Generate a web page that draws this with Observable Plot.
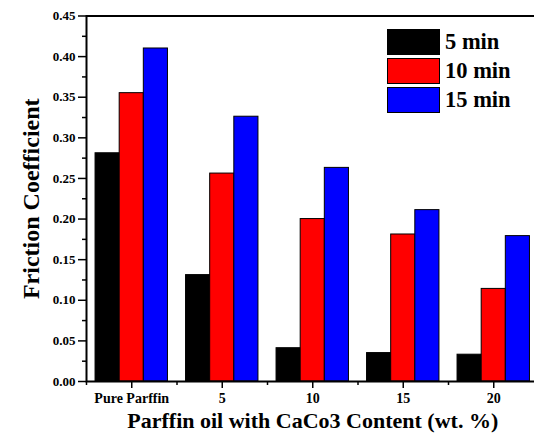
<!DOCTYPE html>
<html>
<head>
<meta charset="utf-8">
<script src="https://cdn.jsdelivr.net/npm/d3@7"></script>
<script src="https://cdn.jsdelivr.net/npm/@observablehq/plot@0.6"></script>
<style>
  html, body { margin: 0; padding: 0; background: white; overflow: hidden; }
  #wrap { position: relative; width: 534px; height: 441px; }
  #legend { position: absolute; left: 387px; top: 27px; font-family: 'Liberation Serif', serif; font-weight: bold; font-size: 22.5px; }
  .row { display: flex; align-items: center; height: 29px; }
  .sw { width: 53px; height: 26px; border: 1px solid #000; margin-right: 5px; box-sizing: border-box; }
</style>
</head>
<body>
<div id="wrap"><div id="legend"></div></div>
<script>
const categories = ["Pure Parffin", "5", "10", "15", "20"];
const series = ["5 min", "10 min", "15 min"];
const colors = ["#000000", "#ff0000", "#0000ff"];
const values5min = [0.281, 0.131, 0.041, 0.035, 0.033];
const values10min = [0.355, 0.256, 0.200, 0.181, 0.114];
const values15min = [0.410, 0.326, 0.263, 0.211, 0.179];
const yTicks = [0, 0.05, 0.10, 0.15, 0.20, 0.25, 0.30, 0.35, 0.40, 0.45];

const seriesValues = [values5min, values10min, values15min];
const groupWidth = 0.8;
const barW = groupWidth / series.length;
const table = categories.flatMap((c, ci) => series.map((s, si) => ({
  category: c,
  series: s,
  value: seriesValues[si][ci],
  x1: ci - groupWidth / 2 + si * barW,
  x2: ci - groupWidth / 2 + (si + 1) * barW
})));

const majorX = categories.map((c, i) => i);
const minorX = categories.map((c, i) => i - 0.5);
const minorY = yTicks.slice(0, -1).map(t => t + 0.025);

const chart = Plot.plot({
  width: 534,
  height: 441,
  marginLeft: 86,
  marginRight: -4.5,
  marginTop: 15.5,
  marginBottom: 60,
  style: { fontFamily: "'Liberation Serif', serif", fontSize: "13px", fontWeight: "bold", color: "#000", background: "white" },
  x: { domain: [-0.5, categories.length - 0.5], axis: null },
  y: { domain: [0, 0.45], axis: null },
  color: { domain: series, range: colors },
  marks: [
    Plot.rectY(table, { x1: "x1", x2: "x2", y: "value", fill: "series", stroke: "#000", strokeWidth: 1 }),
    Plot.axisY({ ticks: yTicks, tickFormat: d3.format(".2f"), tickSize: 8, tickPadding: 3, strokeWidth: 1.5, label: null }),
    Plot.axisY({ ticks: minorY, tickFormat: () => "", tickSize: 4, strokeWidth: 1.5, label: null }),
    Plot.axisX({ ticks: majorX, tickFormat: i => categories[i], tickSize: 7, tickPadding: 5, strokeWidth: 1.5, fontSize: 14, label: null }),
    Plot.axisX({ ticks: minorX, tickFormat: () => "", tickSize: 4, strokeWidth: 1.5, label: null }),
    Plot.frame({ stroke: "#000", strokeWidth: 2 }),
    Plot.text(["Friction Coefficient"], { frameAnchor: "left", textAnchor: "middle", rotate: -90, dx: -55, fontSize: 24, fontWeight: "bold", fill: "#000" }),
    Plot.text(["Parffin oil with CaCo3 Content (wt. %)"], { frameAnchor: "bottom", dy: 46, fontSize: 22, fontWeight: "bold", fill: "#000" })
  ]
});
document.getElementById("wrap").prepend(chart);

const legend = document.getElementById("legend");
series.forEach((s, i) => {
  const row = document.createElement("div");
  row.className = "row";
  const sw = document.createElement("div");
  sw.className = "sw";
  sw.style.background = colors[i];
  const t = document.createElement("span");
  t.textContent = s;
  row.append(sw, t);
  legend.append(row);
});
</script>
</body>
</html>
